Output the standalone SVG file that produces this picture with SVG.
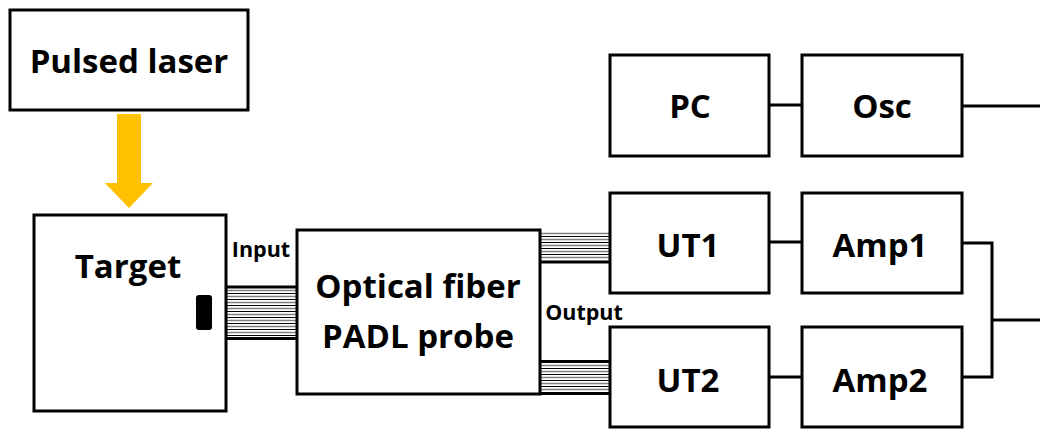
<svg xmlns="http://www.w3.org/2000/svg" width="1040" height="429" viewBox="0 0 1040 429">
<style>
.box{fill:#fff;stroke:#000;stroke-width:3}
.t{font-family:"Open Sans","Liberation Sans",sans-serif;font-weight:bold;font-size:33px;fill:#000;text-anchor:middle}
.s{font-family:"Open Sans","Liberation Sans",sans-serif;font-weight:bold;font-size:21.5px;fill:#000;text-anchor:middle}
.wire{fill:none;stroke:#000;stroke-width:3}
.fb{fill:none;stroke:#000;stroke-width:1}
.fg{fill:none;stroke:#808080;stroke-width:1.3}
</style>
<rect width="1040" height="429" fill="#fff"/>
<g id="connectors">
<polygon points="117,114 141,114 141,183 153,183 129,208 105,183 117,183" fill="#FFC000"/>
<path class="wire" d="M769,105 H802 M962,106 H1040 M769,242 H802 M769,377 H802 M962,243 H992 V377 H962 M992,320 H1040"/>
<g id="bundle-input">
<path class="fg" d="M226,290.5 H297 M226,296.5 H297 M226,302.5 H297 M226,308.5 H297 M226,314.5 H297 M226,320.5 H297 M226,326.5 H297 M226,332.5 H297"/>
<path class="fb" d="M226,293.5 H297 M226,299.5 H297 M226,305.5 H297 M226,311.5 H297 M226,317.5 H297 M226,323.5 H297 M226,329.5 H297 M226,335.5 H297"/>
<path class="wire" d="M226,287 H297 M226,338.5 H297"/>
</g>
<g id="bundle-ut1">
<path class="fg" d="M540,233.5 H610 M540,239.5 H610 M540,245.5 H610 M540,251.5 H610 M540,257.5 H610"/>
<path class="fb" d="M540,236.5 H610 M540,242.5 H610 M540,248.5 H610 M540,254.5 H610"/>
<path class="wire" d="M540,262 H610"/>
</g>
<g id="bundle-ut2">
<path class="fg" d="M540,365.5 H610 M540,371.5 H610 M540,377.5 H610 M540,383.5 H610 M540,389.5 H610"/>
<path class="fb" d="M540,368.5 H610 M540,374.5 H610 M540,380.5 H610 M540,386.5 H610"/>
<path class="wire" d="M540,361.5 H610 M540,393.5 H610"/>
</g>
</g>
<g id="pulsed-laser">
<rect class="box" x="10" y="10" width="238" height="100"/>
<text class="t" x="129" y="73">Pulsed laser</text>
</g>
<g id="target">
<rect class="box" x="34" y="215" width="192" height="196"/>
<text class="t" x="128" y="278">Target</text>
<rect x="196" y="295" width="16" height="35" rx="3" fill="#000"/>
</g>
<g id="probe">
<rect class="box" x="297" y="230" width="243" height="164"/>
<text class="t" x="418" y="298">Optical fiber</text>
<text class="t" x="418" y="348">PADL probe</text>
</g>
<g id="labels">
<text class="s" x="261" y="257">Input</text>
<text class="s" x="584" y="320">Output</text>
</g>
<g id="pc">
<rect class="box" x="610" y="55" width="159" height="101"/>
<text class="t" x="690" y="118">PC</text>
</g>
<g id="osc">
<rect class="box" x="802" y="55" width="160" height="101"/>
<text class="t" x="882" y="118">Osc</text>
</g>
<g id="ut1">
<rect class="box" x="610" y="193" width="159" height="100"/>
<text class="t" x="688" y="257">UT1</text>
</g>
<g id="amp1">
<rect class="box" x="802" y="193" width="160" height="100"/>
<text class="t" x="880" y="257">Amp1</text>
</g>
<g id="ut2">
<rect class="box" x="610" y="327" width="159" height="100"/>
<text class="t" x="688" y="392">UT2</text>
</g>
<g id="amp2">
<rect class="box" x="802" y="327" width="160" height="100"/>
<text class="t" x="880" y="392">Amp2</text>
</g>
</svg>
